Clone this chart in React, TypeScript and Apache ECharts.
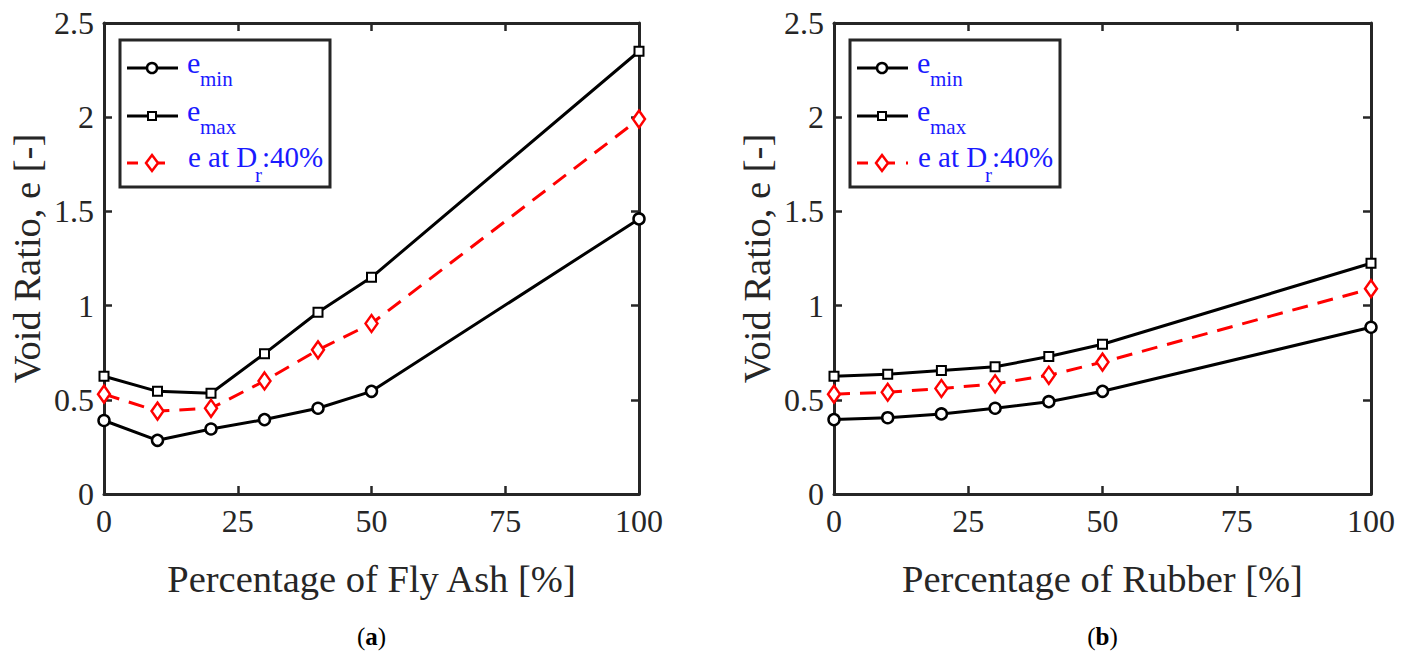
import React, { useEffect, useRef } from "react";
import * as echarts from "echarts";

const xValues = [0, 10, 20, 30, 40, 50, 100];
const flyAshEmin = [0.39, 0.285, 0.345, 0.395, 0.455, 0.545, 1.46];
const flyAshEmax = [0.625, 0.545, 0.535, 0.745, 0.965, 1.15, 2.35];
const flyAshE40 = [0.53, 0.44, 0.455, 0.6, 0.765, 0.905, 1.99];
const rubberEmin = [0.395, 0.405, 0.425, 0.455, 0.49, 0.545, 0.885];
const rubberEmax = [0.625, 0.635, 0.655, 0.675, 0.73, 0.795, 1.225];
const rubberE40 = [0.53, 0.54, 0.56, 0.585, 0.63, 0.7, 1.09];
const xTitles = ["Percentage of Fly Ash [%]", "Percentage of Rubber [%]"];
const yTitle = "Void Ratio, e [-]";
const panelLabels = ["a", "b"];

const FONT = "Liberation Serif";
const FONT3 = "Times New Roman";
const AXIS = "#262626";
const BLUE = "#1a1aff";

const grids = [
  { left: 104, top: 23, width: 535, height: 471 },
  { left: 834, top: 23, width: 537, height: 471 },
];

function pairs(ys: number[]) {
  return xValues.map((x, i) => [x, ys[i]]);
}

function legendElements(gx: number, gy: number, withDot: boolean) {
  const els: any[] = [];
  const bx = gx + 16;
  const by = gy + 17;
  els.push({
    type: "rect",
    shape: { x: bx, y: by, width: 210, height: 147 },
    style: { fill: "#ffffff", stroke: AXIS, lineWidth: 3 },
    z: 100,
  });
  const lx1 = gx + 23;
  const lx2 = gx + 74;
  const mx = gx + 48;
  const tx = gx + 79;
  const r1 = gy + 45;
  const r2 = gy + 93;
  const r3 = gy + 140;
  const txt = (text: string, x: number, y: number, size: number) => ({
    type: "text",
    x,
    y,
    z: 102,
    style: {
      text,
      fill: BLUE,
      fontSize: size,
      fontFamily: FONT,
      align: "left",
      verticalAlign: "middle",
    },
  });
  els.push({ type: "line", z: 101, shape: { x1: lx1, y1: r1, x2: lx2, y2: r1 }, style: { stroke: "#000", lineWidth: 3 } });
  els.push({ type: "circle", z: 102, shape: { cx: mx, cy: r1, r: 5 }, style: { fill: "#fff", stroke: "#000", lineWidth: 2.5 } });
  els.push(txt("e", tx + 4, r1 - 6, 30));
  els.push(txt("min", tx + 17, r1 + 11, 21));
  els.push({ type: "line", z: 101, shape: { x1: lx1, y1: r2, x2: lx2, y2: r2 }, style: { stroke: "#000", lineWidth: 3 } });
  els.push({ type: "rect", z: 102, shape: { x: mx - 4, y: r2 - 4, width: 8, height: 8 }, style: { fill: "#fff", stroke: "#000", lineWidth: 2 } });
  els.push(txt("e", tx + 4, r2 - 6, 30));
  els.push(txt("max", tx + 17, r2 + 11, 21));
  els.push({ type: "line", z: 101, shape: { x1: lx1, y1: r3, x2: lx1 + 11, y2: r3 }, style: { stroke: "#ff0000", lineWidth: 3 } });
  els.push({ type: "line", z: 101, shape: { x1: mx + 6, y1: r3, x2: mx + 13, y2: r3 }, style: { stroke: "#ff0000", lineWidth: 3 } });
  if (withDot) {
    els.push({ type: "line", z: 101, shape: { x1: mx + 24, y1: r3, x2: mx + 26, y2: r3 }, style: { stroke: "#ff0000", lineWidth: 3 } });
  }
  els.push({
    type: "polygon",
    z: 102,
    shape: { points: [[mx, r3 - 8], [mx + 6, r3], [mx, r3 + 8], [mx - 6, r3]] },
    style: { fill: "#fff", stroke: "#ff0000", lineWidth: 2.5 },
  });
  els.push(txt("e at D", tx + 5, r3 - 6, 29));
  els.push(txt("r", tx + 72, r3 + 12, 21));
  els.push(txt(":40%", tx + 79, r3 - 6, 29));
  return els;
}

export default function App() {
  const ref = useRef<HTMLDivElement>(null);
  useEffect(() => {
    if (!ref.current) return;
    const chart = echarts.init(ref.current, undefined, { renderer: "svg" });

    const mkLine = () => ({ show: true, onZero: false, lineStyle: { color: AXIS, width: 3 } });
    const mkTick = () => ({ show: true, inside: true, length: 8, lineStyle: { color: AXIS, width: 2.5 } });
    const xAxes: any[] = [];
    const yAxes: any[] = [];
    grids.forEach((g, gi) => {
      xAxes.push({
        type: "value",
        gridIndex: gi,
        min: 0,
        max: 100,
        interval: 25,
        position: "bottom",
        axisLine: mkLine(),
        axisTick: mkTick(),
        splitLine: { show: false },
        axisLabel: { color: AXIS, fontFamily: FONT, fontSize: 32, margin: 11 },
        name: xTitles[gi],
        nameLocation: "middle",
        nameGap: 65,
        nameTextStyle: { color: AXIS, fontFamily: FONT, fontSize: 38.5 },
      });
      xAxes.push({
        type: "value",
        gridIndex: gi,
        min: 0,
        max: 100,
        interval: 25,
        position: "top",
        axisLine: mkLine(),
        axisTick: mkTick(),
        splitLine: { show: false },
        axisLabel: { show: false },
      });
      yAxes.push({
        type: "value",
        gridIndex: gi,
        min: 0,
        max: 2.5,
        interval: 0.5,
        position: "left",
        axisLine: mkLine(),
        axisTick: mkTick(),
        splitLine: { show: false },
        axisLabel: { color: AXIS, fontFamily: FONT, fontSize: 32, margin: 10 },
        name: yTitle,
        nameLocation: "middle",
        nameGap: 58,
        nameTextStyle: { color: AXIS, fontFamily: FONT, fontSize: 38.5 },
      });
      yAxes.push({
        type: "value",
        gridIndex: gi,
        min: 0,
        max: 2.5,
        interval: 0.5,
        position: "right",
        axisLine: mkLine(),
        axisTick: mkTick(),
        splitLine: { show: false },
        axisLabel: { show: false },
      });
    });

    const datasets = [
      [flyAshEmin, flyAshEmax, flyAshE40],
      [rubberEmin, rubberEmax, rubberE40],
    ];
    const series: any[] = [];
    datasets.forEach((ds, gi) => {
      const xi = gi * 2;
      const yi = gi * 2;
      series.push({
        name: "e_min",
        type: "line",
        xAxisIndex: xi,
        yAxisIndex: yi,
        data: pairs(ds[0]),
        symbol: "circle",
        symbolSize: 11,
        itemStyle: { color: "#ffffff", borderColor: "#000", borderWidth: 2.5 },
        lineStyle: { color: "#000", width: 3 },
        z: 3,
      });
      series.push({
        name: "e_max",
        type: "line",
        xAxisIndex: xi,
        yAxisIndex: yi,
        data: pairs(ds[1]),
        symbol: "rect",
        symbolSize: 9,
        itemStyle: { color: "#ffffff", borderColor: "#000", borderWidth: 2 },
        lineStyle: { color: "#000", width: 3 },
        z: 3,
      });
      series.push({
        name: "e at Dr:40%",
        type: "line",
        xAxisIndex: xi,
        yAxisIndex: yi,
        data: pairs(ds[2]),
        symbol: "diamond",
        symbolSize: [12, 17],
        itemStyle: { color: "#ffffff", borderColor: "#ff0000", borderWidth: 2.5 },
        lineStyle: { color: "#ff0000", width: 3, type: [16, 10] },
        z: 3,
      });
    });

    const graphicEls: any[] = [];
    grids.forEach((g, gi) => {
      legendElements(g.left, g.top, gi === 1).forEach((e) => graphicEls.push(e));
    });
    grids.forEach((g, gi) => {
      graphicEls.push({
        type: "text",
        x: g.left + g.width / 2,
        y: 636,
        style: {
          text: `{p|(}{b|${panelLabels[gi]}}{p|)}`,
          align: "center",
          verticalAlign: "middle",
          fill: "#000",
          rich: {
            p: { fontFamily: FONT3, fontSize: 25, fill: "#000" },
            b: { fontFamily: FONT3, fontSize: 25, fontWeight: "bold", fill: "#000" },
          },
        },
      });
    });

    chart.setOption({
      animation: false,
      backgroundColor: "#ffffff",
      grid: grids.map((g) => ({ ...g, containLabel: false })),
      xAxis: xAxes,
      yAxis: yAxes,
      series,
      graphic: { elements: graphicEls },
    });
    return () => chart.dispose();
  }, []);

  return (
    <div
      ref={ref}
      style={{ position: "absolute", left: 0, top: 0, width: 1411, height: 658 }}
    />
  );
}
